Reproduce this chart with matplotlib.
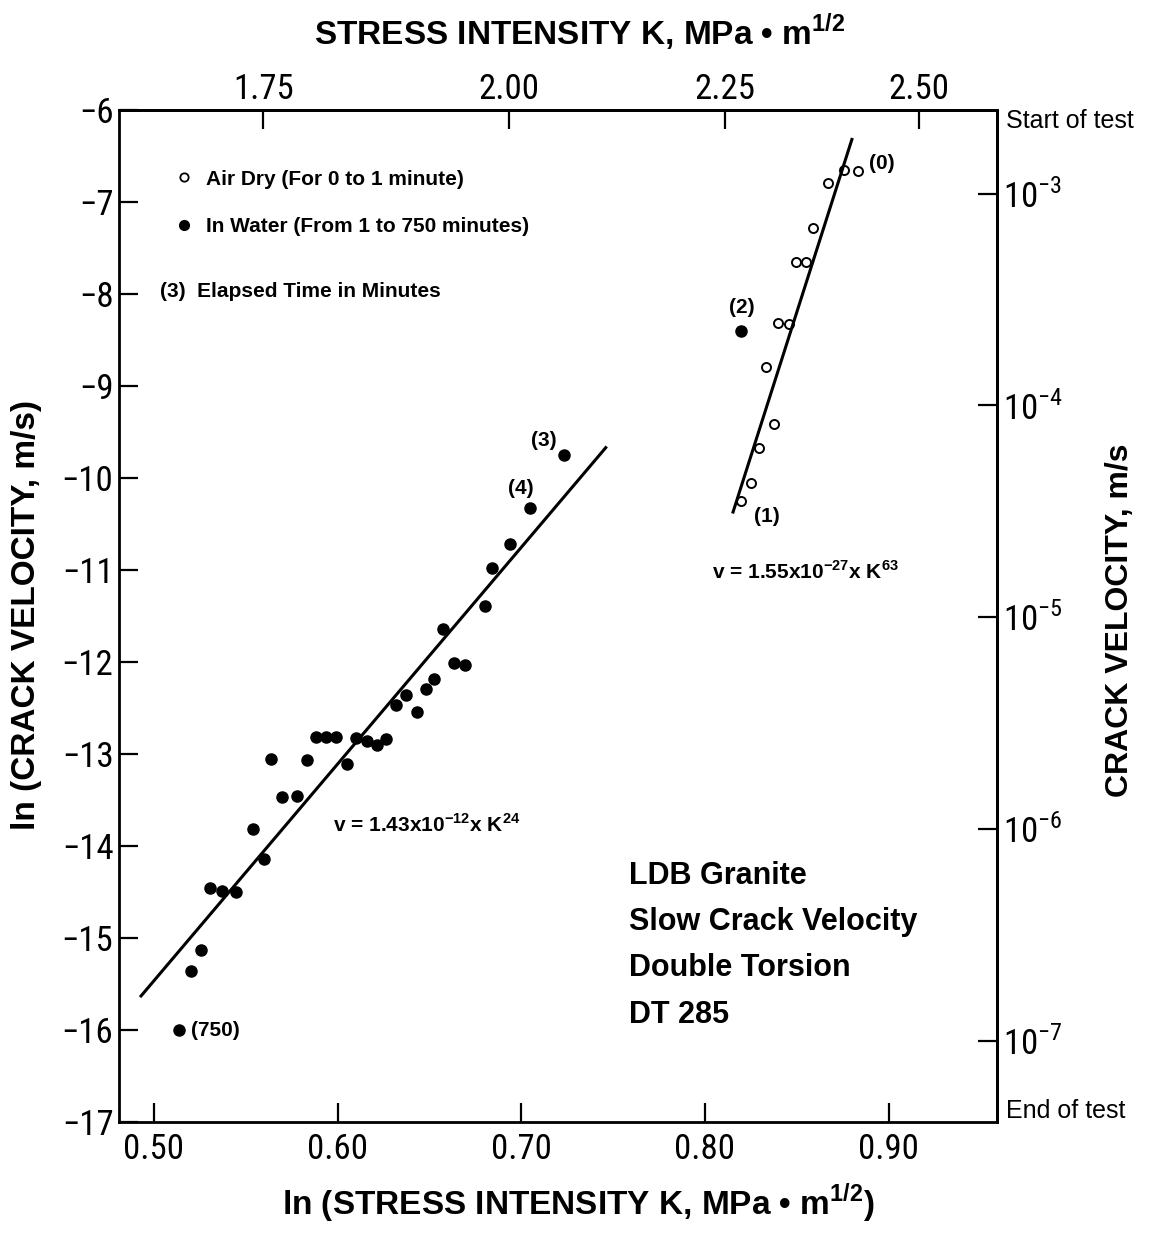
import numpy as np
import matplotlib
matplotlib.use('Agg')
import matplotlib.pyplot as plt
from matplotlib import font_manager
from matplotlib.lines import Line2D

# fonts: a narrow / light face for tick numbers, Arial-like bold for text
fonts = font_manager.fontManager.ttflist
names = {f.name for f in fonts}
tick_font, tick_weight = 'DejaVu Sans', 'normal'
for cand in ['Liberation Sans Narrow', 'Roboto Condensed', 'Open Sans Condensed']:
    if cand in names:
        tick_font = cand
        break
else:
    if any(f.name == 'Roboto' and f.weight in (300, 'light') for f in fonts):
        tick_font, tick_weight = 'Roboto', 'light'
    elif 'Roboto' in names:
        tick_font = 'Roboto'
text_font = 'Liberation Sans'

plt.rcParams['font.family'] = [text_font, 'DejaVu Sans']
plt.rcParams['mathtext.fontset'] = 'custom'
plt.rcParams['mathtext.rm'] = tick_font + (':light' if tick_weight == 'light' else '')
plt.rcParams['mathtext.bf'] = text_font + ':bold'

# ---- data (ln K, ln v) ----
water_x = [0.5134, 0.520, 0.5255, 0.5306, 0.537, 0.5446, 0.5542, 0.560, 0.5636,
           0.570, 0.5777, 0.5832, 0.588, 0.5938, 0.599, 0.6053, 0.6098, 0.6158,
           0.6216, 0.6266, 0.632, 0.6375, 0.6433, 0.6484, 0.6527, 0.6574, 0.6636,
           0.6696, 0.680, 0.684, 0.694, 0.7045, 0.7234, 0.8199]
water_y = [-16.0, -15.36, -15.13, -14.46, -14.49, -14.50, -13.82, -14.14, -13.05,
           -13.47, -13.46, -13.07, -12.81, -12.82, -12.82, -13.11, -12.83, -12.86,
           -12.90, -12.84, -12.47, -12.36, -12.54, -12.29, -12.18, -11.64, -12.01,
           -12.03, -11.39, -10.98, -10.72, -10.33, -9.75, -8.40]
water_tags = {0: '(750)', 31: '(4)', 32: '(3)', 33: '(2)'}

air_x = [0.8833, 0.8757, 0.8671, 0.8588, 0.8552, 0.8498, 0.8458, 0.8398, 0.8332,
         0.8375, 0.8295, 0.825, 0.8199]
air_y = [-6.66, -6.65, -6.79, -7.28, -7.65, -7.65, -8.33, -8.32, -8.79,
         -9.41, -9.67, -10.05, -10.25]
air_tags = {0: '(0)', 12: '(1)'}

fit_water_x = [0.493, 0.746]
fit_water_y = [-15.63, -9.67]
fit_air_x = [0.8153, 0.880]
fit_air_y = [-10.37, -6.32]

x_ticks = [0.50, 0.60, 0.70, 0.80, 0.90]
x_labels = ['0.50', '0.60', '0.70', '0.80', '0.90']
y_ticks = list(range(-17, -5))
k_ticks = [1.75, 2.00, 2.25, 2.50]
k_labels = ['1.75', '2.00', '2.25', '2.50']
v_ticks = [1e-3, 1e-4, 1e-5, 1e-6, 1e-7]
v_labels = [r'$10^{-3}$', r'$10^{-4}$', r'$10^{-5}$', r'$10^{-6}$', r'$10^{-7}$']

W, H = 1164, 1235
fig = plt.figure(figsize=(W / 100, H / 100), dpi=100)
ax = fig.add_axes([119 / W, 1 - 1122 / H, 878 / W, 1012 / H])
ax.set_xlim(0.481, 0.959)
ax.set_ylim(-17, -6)

ax.plot(fit_water_x, fit_water_y, color='black', lw=2.2)
ax.plot(fit_air_x, fit_air_y, color='black', lw=2.2)
ax.plot(water_x, water_y, 'o', color='black', ms=8)
ax.plot(air_x, air_y, 'o', mfc='none', mec='black', ms=6.5, mew=1.4)

for spine in ax.spines.values():
    spine.set_linewidth(2)

tick_kw = dict(direction='in', length=14, width=1.6, labelsize=25,
               labelfontfamily=tick_font)
ax.set_xticks(x_ticks, labels=x_labels)
ax.set_yticks(y_ticks)
ax.tick_params(axis='x', pad=8, **tick_kw)
ax.tick_params(axis='y', pad=4, **tick_kw)

top = ax.secondary_xaxis('top', functions=(np.exp, np.log))
top.set_xticks(k_ticks, labels=k_labels)
top.tick_params(pad=3, **tick_kw)

right = ax.secondary_yaxis('right', functions=(np.exp, np.log))
right.set_yticks(v_ticks, labels=v_labels)
right.tick_params(pad=4, **tick_kw)
for sec in (top, right):
    for spine in sec.spines.values():
        spine.set_linewidth(2)

for lbl in (ax.get_xticklabels() + ax.get_yticklabels()
            + top.get_xticklabels() + right.get_yticklabels()):
    lbl.set_fontweight(tick_weight)

# point tags
tag_kw = dict(textcoords='offset pixels', fontsize=15, weight='bold', va='center')
tag_offsets = {'(750)': (12, 0, 'left'), '(4)': (-9, 20, 'center'),
               '(3)': (-20, 15, 'center'), '(2)': (0, 23, 'center'),
               '(0)': (11, 7, 'left'), '(1)': (13, -15, 'left')}
for i, tag in water_tags.items():
    dx, dy, ha = tag_offsets[tag]
    ax.annotate(tag, (water_x[i], water_y[i]), xytext=(dx, dy), ha=ha, **tag_kw)
for i, tag in air_tags.items():
    dx, dy, ha = tag_offsets[tag]
    ax.annotate(tag, (air_x[i], air_y[i]), xytext=(dx, dy), ha=ha, **tag_kw)

# legend
handles = [Line2D([], [], ls='none', marker='o', mfc='none', mec='black', ms=6, mew=1.3),
           Line2D([], [], ls='none', marker='o', color='black', ms=7)]
ax.legend(handles, ['Air Dry (For 0 to 1 minute)', 'In Water (From 1 to 750 minutes)'],
          loc='upper left', bbox_to_anchor=(0.064, 0.941), frameon=False,
          prop={'weight': 'bold', 'size': 15}, handlelength=0.8, handletextpad=0.7,
          labelspacing=1.35, borderaxespad=0, borderpad=0)
ax.text(0.047, 0.821, '(3)  Elapsed Time in Minutes', transform=ax.transAxes,
        fontsize=15, weight='bold', va='center')

# fit equations
ax.text(0.5975, -13.77, r'v = 1.43x10$^{\mathbf{-12}}$x K$^{\mathbf{24}}$',
        fontsize=15, weight='bold', va='center')
ax.text(0.8038, -11.02, r'v = 1.55x10$^{\mathbf{-27}}$x K$^{\mathbf{63}}$',
        fontsize=15, weight='bold', va='center')

# specimen block
block = ['LDB Granite', 'Slow Crack Velocity', 'Double Torsion', 'DT 285']
for line, yv in zip(block, [-14.33, -14.83, -15.33, -15.84]):
    ax.text(0.7587, yv, line, fontsize=22, weight='bold', va='center')

# axis titles
fig.text(580 / W, 1 - 32 / H, r'STRESS INTENSITY K, MPa • m$^{\mathbf{1/2}}$',
         fontsize=24, weight='bold', ha='center', va='center')
fig.text(578 / W, 1 - 1203 / H, r'ln (STRESS INTENSITY K, MPa • m$^{\mathbf{1/2}}$)',
         fontsize=24, weight='bold', ha='center', va='center')
fig.text(27 / W, 1 - 615 / H, 'ln (CRACK VELOCITY, m/s)', rotation=90,
         fontsize=24, weight='bold', ha='center', va='center')
fig.text(1120 / W, 1 - 620 / H, 'CRACK VELOCITY, m/s', rotation=90,
         fontsize=23, weight='bold', ha='center', va='center')
fig.text(1006 / W, 1 - 121 / H, 'Start of test', fontsize=18, va='center')
fig.text(1006 / W, 1 - 1111 / H, 'End of test', fontsize=18, va='center')

fig.savefig('out.png', dpi=100)
